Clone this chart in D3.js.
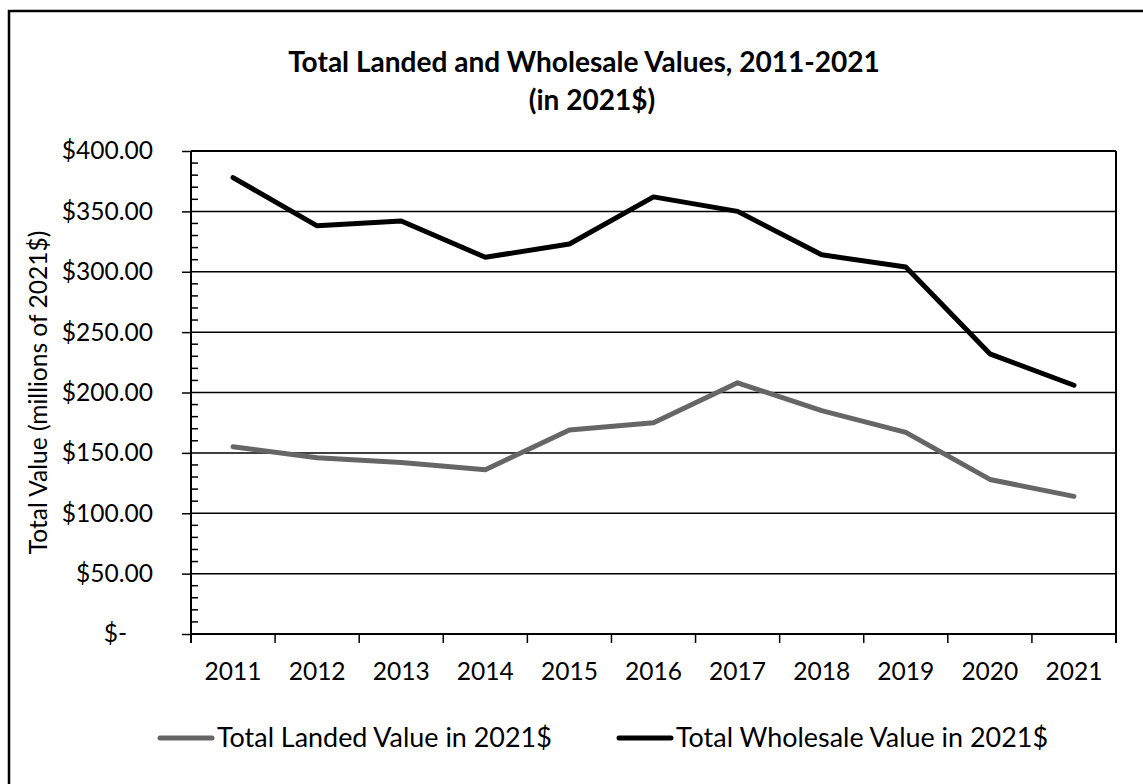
<!DOCTYPE html>
<html>
<head>
<meta charset="utf-8">
<script src="https://cdn.jsdelivr.net/npm/d3@7"></script>
<style>
  body { margin: 0; background: #fff; }
  svg text { font-family: Lato, "Open Sans", sans-serif; fill: #000; }
</style>
</head>
<body>
<svg id="chart" width="1143" height="784"></svg>
<script>
// chart data
var years = ["2011","2012","2013","2014","2015","2016","2017","2018","2019","2020","2021"];
var landed = [155, 146, 142, 136, 169, 175, 208, 185, 167, 128, 114];
var wholesale = [378, 338, 342, 312, 323, 362, 350, 314, 304, 232, 206];
var yTicks = [0, 50, 100, 150, 200, 250, 300, 350, 400];
var seriesNames = ["Total Landed Value in 2021$", "Total Wholesale Value in 2021$"];

var svg = d3.select("#chart");

// size a font so a sample string gets a given width (the original is Calibri)
function fitSize(str, width, weight) {
  var t = svg.append("text").style("font-size", "100px").style("font-weight", weight || "normal").text(str);
  var w = t.node().getComputedTextLength();
  t.remove();
  return 100 * width / w;
}
var legendFs = fitSize("Total Landed Value in 2021$", 335) + "px";
var axisFs = fitSize("2011", 57) + "px";
var titleFs = fitSize("Total Landed and Wholesale Values, 2011-2021", 592, "bold") + "px";

// outer frame (runs off the right/bottom edge like the original)
svg.append("rect")
  .attr("x", 9).attr("y", 11)
  .attr("width", 1160).attr("height", 800)
  .attr("fill", "none").attr("stroke", "#000").attr("stroke-width", 2.5);

var plotL = 191, plotR = 1116, plotT = 151, plotB = 634;

var x = d3.scaleBand().domain(years).range([plotL, plotR]);
var y = d3.scaleLinear().domain([0, 400]).range([plotB, plotT]);

// title
var title = svg.append("text")
  .attr("text-anchor", "middle")
  .style("font-weight", "bold")
  .style("font-size", titleFs);
title.append("tspan").attr("x", 584).attr("y", 72).text("Total Landed and Wholesale Values, 2011-2021");
title.append("tspan").attr("x", 592).attr("y", 110).text("(in 2021$)");

// gridlines
svg.append("g").selectAll("line")
  .data(yTicks.slice(1))
  .enter().append("line")
  .attr("x1", plotL).attr("x2", plotR)
  .attr("y1", function(d){ return y(d); })
  .attr("y2", function(d){ return y(d); })
  .attr("stroke", "#000").attr("stroke-width", 1.5);

// minor ticks on the y axis (inside)
var minor = d3.range(0, 401, 10).filter(function(d){ return d % 50 !== 0; });
svg.append("g").selectAll("line")
  .data(minor)
  .enter().append("line")
  .attr("x1", plotL).attr("x2", plotL + 7)
  .attr("y1", function(d){ return y(d); })
  .attr("y2", function(d){ return y(d); })
  .attr("stroke", "#000").attr("stroke-width", 1.5);

// y axis, accounting style labels ($-  for zero)
var yAxis = d3.axisLeft(y)
  .tickValues(yTicks)
  .tickSize(9)
  .tickPadding(29)
  .tickFormat(function(d){ return d === 0 ? "$-" : "$" + d3.format(".2f")(d); });

var gy = svg.append("g").attr("transform", "translate(" + plotL + ",0)").call(yAxis);
gy.select(".domain").attr("stroke-width", 2).attr("d", "M0," + (plotB + 9) + "V" + plotT);
gy.selectAll(".tick line").attr("stroke-width", 1.5);
gy.selectAll("text").style("font-size", axisFs).style("font-family", "Lato, sans-serif");
gy.selectAll(".tick").filter(function(d){ return d === 0; }).select("text").attr("x", -64);

// x axis with ticks at category boundaries
svg.append("line")
  .attr("x1", plotL).attr("x2", plotR)
  .attr("y1", plotB).attr("y2", plotB)
  .attr("stroke", "#000").attr("stroke-width", 2);

var bounds = years.map(function(d){ return x(d); }).concat([plotR]);
svg.append("g").selectAll("line")
  .data(bounds)
  .enter().append("line")
  .attr("x1", function(d){ return d; }).attr("x2", function(d){ return d; })
  .attr("y1", plotB).attr("y2", plotB + 9)
  .attr("stroke", "#000").attr("stroke-width", 1.5);

svg.append("g").selectAll("text")
  .data(years)
  .enter().append("text")
  .attr("x", function(d){ return x(d) + x.bandwidth() / 2; })
  .attr("y", 680)
  .attr("text-anchor", "middle")
  .style("font-size", axisFs)
  .text(function(d){ return d; });

// plot frame: right and top edges
svg.append("line")
  .attr("x1", plotR).attr("x2", plotR)
  .attr("y1", plotT).attr("y2", plotB + 9)
  .attr("stroke", "#000").attr("stroke-width", 2);
svg.append("line")
  .attr("x1", plotL).attr("x2", plotR)
  .attr("y1", plotT).attr("y2", plotT)
  .attr("stroke", "#000").attr("stroke-width", 2);

// y axis title
svg.append("text")
  .attr("transform", "translate(47," + ((plotT + plotB) / 2) + ") rotate(-90)")
  .attr("text-anchor", "middle")
  .style("font-size", axisFs)
  .text("Total Value (millions of 2021$)");

// lines
var line = d3.line()
  .x(function(d, i){ return x(years[i]) + x.bandwidth() / 2; })
  .y(function(d){ return y(d); });

var colors = ["#666666", "#000000"];
[landed, wholesale].forEach(function(s, i){
  svg.append("path")
    .datum(s)
    .attr("d", line)
    .attr("fill", "none")
    .attr("stroke", colors[i])
    .attr("stroke-width", 5)
    .attr("stroke-linejoin", "round")
    .attr("stroke-linecap", "round");
});

// legend
var legendX = [160, 619];
seriesNames.forEach(function(name, i){
  var g = svg.append("g").attr("transform", "translate(" + legendX[i] + ",738)");
  g.append("line")
    .attr("x1", 0).attr("x2", 52)
    .attr("y1", 0).attr("y2", 0)
    .attr("stroke", colors[i]).attr("stroke-width", 5).attr("stroke-linecap", "round");
  g.append("text")
    .attr("x", 57).attr("y", 9)
    .style("font-size", legendFs)
    .text(name);
});
</script>
</body>
</html>
